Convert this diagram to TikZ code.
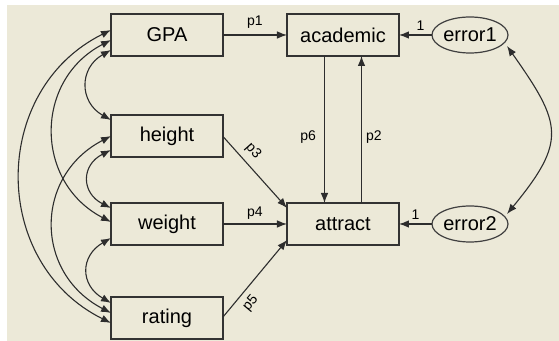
\documentclass[tikz,border=0pt]{standalone}
\usepackage{fontspec}
\setmainfont{Liberation Sans}
\usetikzlibrary{shapes,arrows.meta,positioning,calc}
\definecolor{amosbg}{RGB}{236,233,216}
\definecolor{amosline}{RGB}{45,45,45}

\begin{document}
\begin{tikzpicture}[x=0.5pt, y=-0.5pt, >={Latex[length=5pt,width=3.8pt]}]

\tikzstyle{block} = [rectangle, draw=black!80, line width=0.9pt, minimum width=56pt, minimum height=21pt, inner sep=0pt, outer sep=0pt, font=\normalsize];
\tikzstyle{errvar} = [ellipse, draw=black!75, line width=0.6pt, minimum width=38pt, minimum height=18pt, inner sep=0pt, outer sep=0pt, font=\normalsize];
\tikzstyle{link} = [->, line width=0.55pt, draw=amosline];
\tikzstyle{cov} = [<->, line width=0.55pt, draw=amosline];
\tikzstyle{lbl} = [font=\scriptsize, inner sep=2pt];

% Latar
\useasboundingbox (0,0) rectangle (559,341);
\fill[amosbg] (7,5) rectangle (559,341);

% Baris 1 - GPA, academic, error1
\node (gpa) [block] at (167,35) {GPA};
\node (academic) [block, right=32pt of gpa] {academic};
\node (error1) [errvar, right=16.5pt of academic] {error1};

% Kolom kiri - variabel eksogen
\node (height) [block, below=29.5pt of gpa] {height};
\node (weight) [block, below=23pt of height] {weight};
\node (rating) [block, below=26pt of weight] {rating};

% Baris 3 - attract, error2
\node (attract) [block, right=32pt of weight] {attract};
\node (error2) [errvar, right=16.5pt of attract] {error2};

% Jalur
\draw[link] (gpa) -- node[lbl, above, yshift=1pt] {p1} (academic);
\draw[link] ($(academic.south)+(-18.5,0)$) -- node[lbl, left, pos=0.55, xshift=-2pt] {p6} ($(attract.north)+(-18.5,0)$);
\draw[link] ($(attract.north)+(18.5,0)$) -- node[lbl, right, pos=0.45] {p2} ($(academic.south)+(18.5,0)$);
\draw[link] (error1) -- node[lbl, above, pos=0.35] {1} (academic);
\draw[link] (error2) -- node[lbl, above] {1} (attract);
\draw[link] ($(height.east)+(0,0.5)$) -- node[lbl, above, sloped, pos=0.32, inner sep=3pt] {p3} ($(attract.west)+(0,-16)$);
\draw[link] (weight) -- node[lbl, above] {p4} (attract);
\draw[link] ($(rating.east)+(0,-1)$) -- node[lbl, below, sloped, pos=0.28, inner sep=3pt] {p5} ($(attract.west)+(0,16)$);

% Kovarians
\draw[cov] ($(gpa.west)+(0,-5)$) .. controls +(-121,60) and +(-121,-60) .. ($(rating.west)+(0,5)$);
\draw[cov] ($(gpa.west)+(0,5)$) .. controls +(-77,40) and +(-77,-40) .. ($(weight.west)+(0,-2)$);
\draw[cov] ($(gpa.west)+(0,15)$) .. controls +(-32,18) and +(-32,-18) .. ($(height.west)+(0,-16)$);
\draw[cov] (height.west) .. controls +(-77,40) and +(-77,-40) .. ($(rating.west)+(0,-5)$);
\draw[cov] ($(height.west)+(0,14)$) .. controls +(-30,15) and +(-30,-15) .. ($(weight.west)+(0,-16)$);
\draw[cov] ($(weight.west)+(0,14)$) .. controls +(-31,18) and +(-31,-18) .. ($(rating.west)+(0,-15)$);
\draw[cov] ($(error1.east)+(-1,11)$) .. controls +(55,78) and +(60,-73) .. ($(error2.east)+(-1,-10)$);

\end{tikzpicture}
\end{document}
